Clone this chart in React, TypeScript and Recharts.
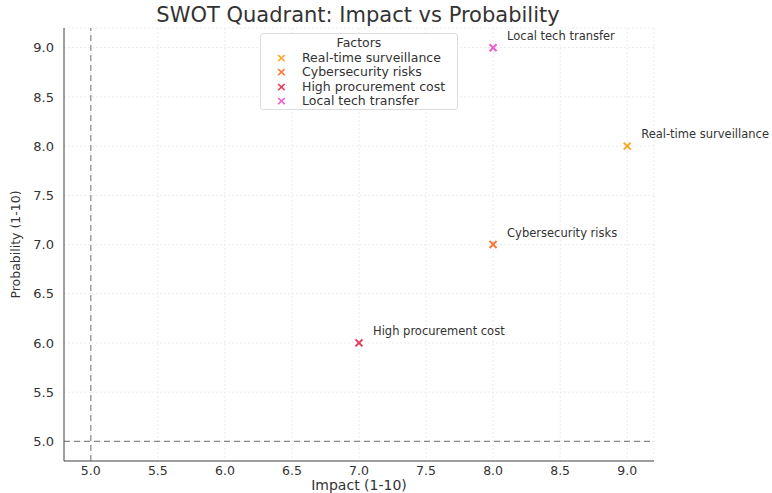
import React from "react";
import {
  ScatterChart,
  Scatter,
  XAxis,
  YAxis,
  CartesianGrid,
  ReferenceLine,
  LabelList,
} from "recharts";

// factors on the SWOT quadrant
const factorNames = ["Real-time surveillance", "Cybersecurity risks", "High procurement cost", "Local tech transfer"];
const impactValues = [9, 8, 7, 8];
const probabilityValues = [8, 7, 6, 9];
const factorColors = ["#F9A825", "#F47A3A", "#E8385E", "#EC5FCF"];
const axisTicks = [5, 5.5, 6, 6.5, 7, 7.5, 8, 8.5, 9];

const FONT = "'DejaVu Sans', sans-serif";

const XMark = (props: any) => {
  const { cx, cy, fill } = props;
  const r = 3.5;
  return (
    <g>
      <line x1={cx - r} y1={cy - r} x2={cx + r} y2={cy + r} stroke={fill} strokeWidth={2} />
      <line x1={cx - r} y1={cy + r} x2={cx + r} y2={cy - r} stroke={fill} strokeWidth={2} />
    </g>
  );
};

const PointLabel = (props: any) => {
  const { x, y, width, height, value } = props;
  const cx = x + width / 2;
  const cy = y + height / 2;
  return (
    <text x={cx + 14} y={cy - 8} fontSize={11.5} fill="#333" fontFamily={FONT}>
      {value}
    </text>
  );
};

export default function App() {
  const series = factorNames.map((name, i) => ({
    name,
    color: factorColors[i],
    data: [{ impact: impactValues[i], probability: probabilityValues[i], name }],
  }));

  return (
    <div style={{ position: "absolute", left: 0, top: 0, width: 772, height: 493, background: "#fff", fontFamily: FONT }}>
      <div
        style={{
          position: "absolute",
          left: 0,
          width: 716,
          top: 3,
          textAlign: "center",
          fontSize: 21,
          color: "#333",
        }}
      >
        SWOT Quadrant: Impact vs Probability
      </div>
      <ScatterChart width={772} height={493} margin={{ top: 28, right: 118, bottom: 0, left: 0 }}>
        <CartesianGrid stroke="#ebebeb" strokeDasharray="2 2" />
        <XAxis
          type="number"
          dataKey="impact"
          domain={[4.8, 9.2]}
          ticks={axisTicks}
          tickFormatter={(v: number) => v.toFixed(1)}
          height={32}
          stroke="#444"
          tickLine={false}
          tick={{ fontSize: 12.5, fill: "#333", fontFamily: FONT }}
          tickMargin={-1}
        />
        <YAxis
          type="number"
          dataKey="probability"
          domain={[4.8, 9.2]}
          ticks={axisTicks}
          tickFormatter={(v: number) => v.toFixed(1)}
          width={64}
          stroke="#444"
          tickLine={false}
          tick={{ fontSize: 13, fill: "#333", fontFamily: FONT }}
          tickMargin={4}
          label={{
            value: "Probability (1-10)",
            angle: -90,
            position: "insideLeft",
            offset: 16,
            style: { textAnchor: "middle" },
            fontSize: 12.5,
            fill: "#333",
            fontFamily: FONT,
          }}
        />
        <ReferenceLine x={5} stroke="#888" strokeDasharray="6 4" strokeWidth={1.2} />
        <ReferenceLine y={5} stroke="#888" strokeDasharray="6 4" strokeWidth={1.2} />
        {series.map((s) => (
          <Scatter
            key={s.name}
            name={s.name}
            data={s.data}
            fill={s.color}
            shape={<XMark />}
            isAnimationActive={false}
          >
            <LabelList dataKey="name" content={<PointLabel />} />
          </Scatter>
        ))}
      </ScatterChart>
      <div
        style={{
          position: "absolute",
          left: 64,
          width: 590,
          top: 478,
          lineHeight: "14px",
          textAlign: "center",
          fontSize: 14,
          color: "#333",
        }}
      >
        Impact (1-10)
      </div>
      <div
        style={{
          position: "absolute",
          left: 260,
          top: 33,
          width: 198,
          height: 77,
          border: "1px solid #ddd",
          borderRadius: 3,
          background: "rgba(255,255,255,0.85)",
          fontSize: 12.5,
          color: "#333",
          boxSizing: "border-box",
        }}
      >
        <div style={{ textAlign: "center", marginTop: 1, lineHeight: "15px" }}>Factors</div>
        {series.map((s) => (
          <div key={s.name} style={{ display: "flex", alignItems: "center", height: 14.5 }}>
            <span style={{ width: 41, textAlign: "center", color: s.color, fontSize: 13, fontWeight: "bold" }}>×</span>
            <span>{s.name}</span>
          </div>
        ))}
      </div>
    </div>
  );
}
